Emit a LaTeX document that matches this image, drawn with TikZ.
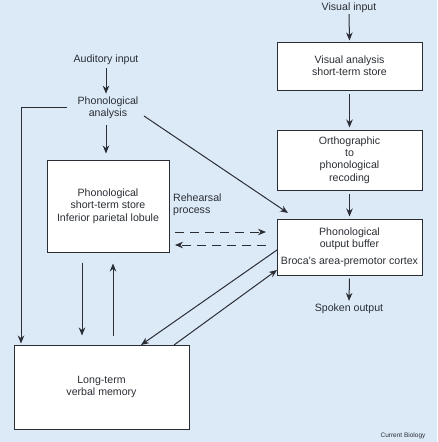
\documentclass[tikz,border=0pt]{standalone}
\usepackage{fontspec}
\setmainfont{Liberation Sans}
\usetikzlibrary{arrows.meta}
\definecolor{bgblue}{HTML}{DCEAF8}
\definecolor{ink}{HTML}{2A2E34}
\tikzset{
  boxnode/.style={draw=ink, line width=1pt, fill=white, align=center, inner sep=0pt, font=\fontsize{10.6}{12.4}\selectfont, text=ink},
  txt/.style={align=center, inner sep=1pt, font=\fontsize{10.6}{12.4}\selectfont, text=ink},
  conn/.style={draw=ink, line width=1pt, -{Stealth[length=8pt,width=6.5pt]}},
  dashconn/.style={conn, dashed, dash pattern=on 9pt off 6pt}
}
\begin{document}
\begin{tikzpicture}[x=1pt,y=-1pt]
\fill[bgblue] (0,0) rectangle (437,442);
\useasboundingbox (0,0) rectangle (437,442);
% right column
\node[txt] (vin) at (349,8) {Visual input};
\node[boxnode, minimum width=145pt, minimum height=48pt] (vas) at (349.5,66) {Visual analysis\\short-term store};
\node[boxnode, minimum width=145pt, minimum height=60pt] (orth) at (349.5,160) {Orthographic\\to\\phonological\\recoding};
\node[boxnode, minimum width=145pt, minimum height=56pt] (pob) at (349.5,247) {Phonological\\output buffer\\[4pt]Broca's area-premotor cortex};
\node[txt] (sout) at (349,309) {Spoken output};
% left column
\node[txt] (ain) at (106,60) {Auditory input};
\node[txt] (pan) at (108,108) {Phonological\\analysis};
\node[boxnode, minimum width=122pt, minimum height=92pt] (psts) at (108,206) {Phonological\\short-term store\\Inferior parietal lobule};
\node[txt, anchor=west, align=left] (reh) at (172,205) {Rehearsal\\process};
\node[boxnode, minimum width=175pt, minimum height=84pt] (ltm) at (101.5,387) {Long-term\\verbal memory};
\node[txt, font=\fontsize{6.5}{7}\selectfont] (cb) at (403,436) {Current Biology};
% coordinates
\coordinate (pstart) at (67,107);
\coordinate (corner) at (21,107);
\coordinate (panr) at (144,116);
\coordinate (pobd) at (288,213);
\coordinate (pobl1) at (277,250);
\coordinate (pobl2) at (277,270);
\coordinate (ltmt1) at (141,345);
\coordinate (ltmt2) at (174,345);
\coordinate (dl1) at (175,232);
\coordinate (dr1) at (266,232);
\coordinate (dl2) at (175,245);
\coordinate (dr2) at (266,245);
% connectors (yshift is in canvas units: positive = up)
\draw[conn] (vin.south) -- ([yshift=1pt]vas.north);
\draw[conn] ([yshift=-3pt]vas.south) -- ([yshift=2pt]orth.north);
\draw[conn] ([yshift=-3pt]orth.south) -- ([yshift=2pt]pob.north);
\draw[conn] ([yshift=-3pt]pob.south) -- ([yshift=2pt]sout.north);
\draw[conn] ([yshift=-2pt]ain.south) -- ([xshift=-2pt,yshift=2pt]pan.north);
\draw[conn] ([xshift=-2pt,yshift=-5pt]pan.south) -- ([xshift=-2pt,yshift=6pt]psts.north);
\draw[conn] (pstart) -- (corner) -- ([yshift=1pt]corner |- ltm.north);
\draw[conn] (panr) -- (pobd);
\draw[conn] ([xshift=-26pt,yshift=-10pt]psts.south) -- ([xshift=-19.5pt,yshift=9pt]ltm.north);
\draw[conn] ([xshift=11.5pt,yshift=9pt]ltm.north) -- ([xshift=5pt,yshift=-11pt]psts.south);
\draw[conn] (pobl1) -- (ltmt1);
\draw[conn] (ltmt2) -- (pobl2);
\draw[dashconn] (dl1) -- (dr1);
\draw[dashconn] (dr2) -- (dl2);
\end{tikzpicture}
\end{document}
